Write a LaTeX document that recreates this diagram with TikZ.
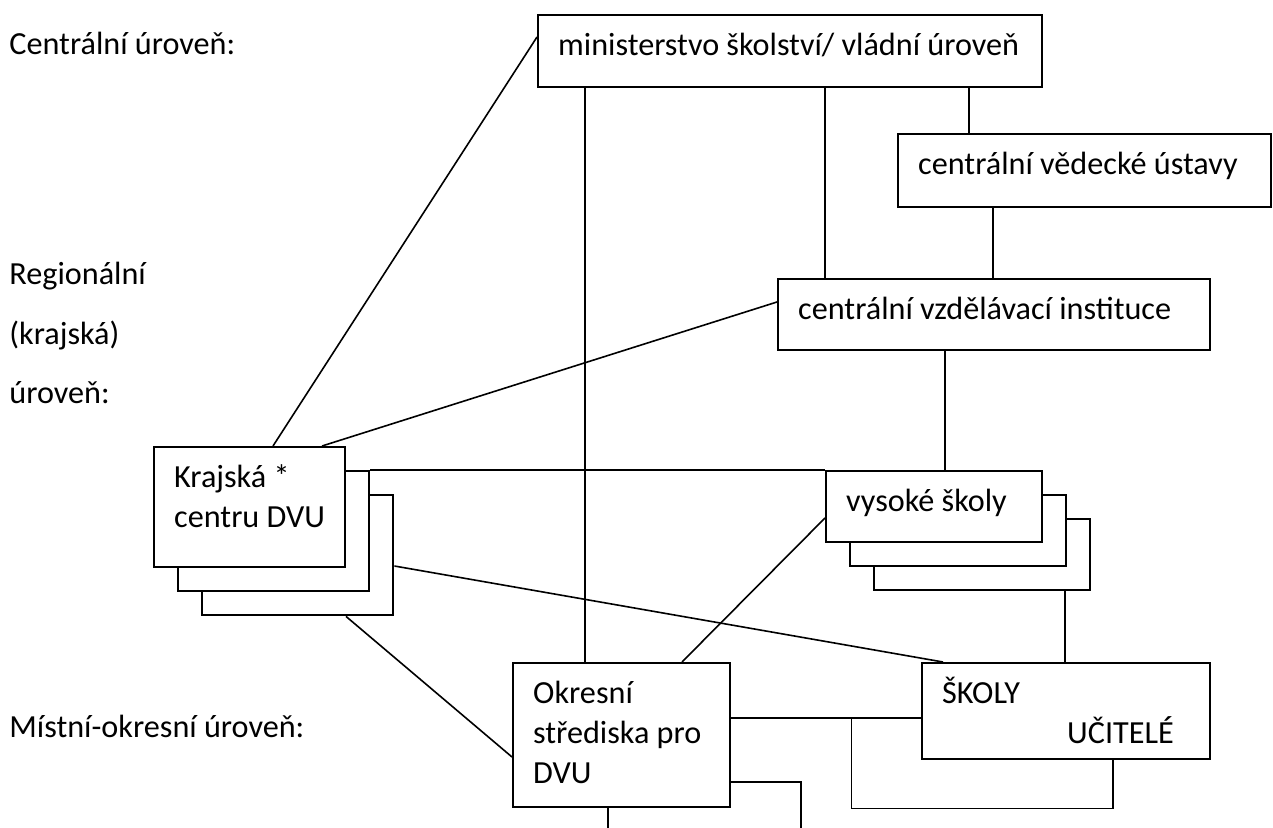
\documentclass[tikz,border=0pt]{standalone}
\usepackage{fontspec}
\setmainfont{Carlito}
\usepackage{tikz}

\begin{document}
\begin{tikzpicture}[
  x=0.5pt, y=-0.5pt,
  every node/.style = {font=\fontsize{16.1}{20}\selectfont},
  level/.style = {anchor=base west, inner sep=0pt},
  box/.style = {draw, fill=white, line width=1.2pt, anchor=north west,
    inner xsep=5pt, inner ysep=0pt, align=left, text height=20.25pt,
    execute at begin node={\leftskip=5pt\rightskip=0pt plus 1fil\spaceskip=0pt\xspaceskip=0pt}},
  backbox/.style 2 args = {draw, fill=white, line width=1.2pt,
    anchor=north west, inner sep=0pt, minimum width=#1, minimum height=#2},
  link/.style = {line width=0.8pt}]
  \useasboundingbox (0,0) rectangle (1273,828);

  \node[level] (lc) at (9,55) {Centrální úroveň:};
  \node[level] (lr1) at (9,285) {Regionální};
  \node[level] (lr2) at (9,344) {(krajská)};
  \node[level] (lr3) at (9,403) {úroveň:};
  \node[level] (ll) at (9,737) {Místní-okresní úroveň:};

  \node[box, text width=242pt, text depth=15.75pt] (mini) at (537,14)
    {ministerstvo školství/ vládní úroveň};
  \node[box, text width=176.5pt, text depth=16.25pt] (ved) at (897,133)
    {centrální vědecké ústavy};
  \node[box, text width=206pt, text depth=15.25pt] (cvi) at (777,278)
    {centrální vzdělávací instituce};
  \node[backbox={108pt}{35.5pt}] (vysC) at (873,518) {};
  \node[backbox={108pt}{35.5pt}] (vysB) at (849,494) {};
  \node[box, text width=98pt, text depth=15.25pt] (vys) at (825,470)
    {vysoké školy};
  \node[backbox={95.5pt}{60pt}] (krajC) at (201,494) {};
  \node[backbox={95.5pt}{60pt}] (krajB) at (177,470) {};
  \node[box, text width=85.5pt, text depth=39.75pt] (kraj) at (153,446)
    {Krajská *\\centru DVU};
  \node[box, text width=98.5pt, text depth=51.75pt] (okres) at (512,662)
    {Okresní\\střediska pro\\DVU};
  \node[box, text width=134pt, text depth=27.75pt] (skoly) at (921,662)
    {ŠKOLY\\\hspace*{62.5pt}UČITELÉ};

  \coordinate (endA) at (801,828);
  \coordinate (endB) at (608,828);

  \draw[link] ([xshift=24pt]mini.south west) -- ([xshift=24pt]mini.south west |- okres.north);
  \draw[link] ([xshift=144pt]mini.south west) -- ([xshift=144pt]mini.south west |- cvi.north);
  \draw[link] ([xshift=216pt]mini.south west) -- ([xshift=216pt]mini.south west |- ved.north);
  \draw[link] ([xshift=48pt]ved.south west) -- ([xshift=48pt]ved.south west |- cvi.north);
  \draw[link] ([xshift=84pt]cvi.south west) -- ([xshift=84pt]cvi.south west |- vys.north);
  \draw[link] ([xshift=96pt]vysC.south west) -- ([xshift=96pt]vysC.south west |- skoly.north);
  \draw[link] ([xshift=60pt]kraj.north west) -- ([yshift=-11.5pt]mini.north west);
  \draw[link] ([xshift=84.5pt]kraj.north west) -- ([yshift=-12pt]cvi.north west);
  \draw[link] (krajB.north east) -- (vys.north west);
  \draw[link] ([yshift=-36pt]krajC.north east) -- ([xshift=11pt]skoly.north west);
  \draw[link] ([xshift=72.5pt]krajC.south west) -- ([yshift=-47.5pt]okres.north west);
  \draw[link] ([yshift=-24pt]vys.north west) -- ([xshift=85pt]okres.north west);
  \draw[link] ([yshift=-28pt]okres.north east) coordinate (j) -- (j -| skoly.west);
  \draw[link] ([xshift=60pt]j) |- ([xshift=96pt]skoly.south west |- okres.south)
    -- ([xshift=96pt]skoly.south west);
  \draw[link] ([yshift=-60pt]okres.north east) -| (endA);
  \draw[link] (okres.south -| endB) -- (endB);
\end{tikzpicture}
\end{document}
